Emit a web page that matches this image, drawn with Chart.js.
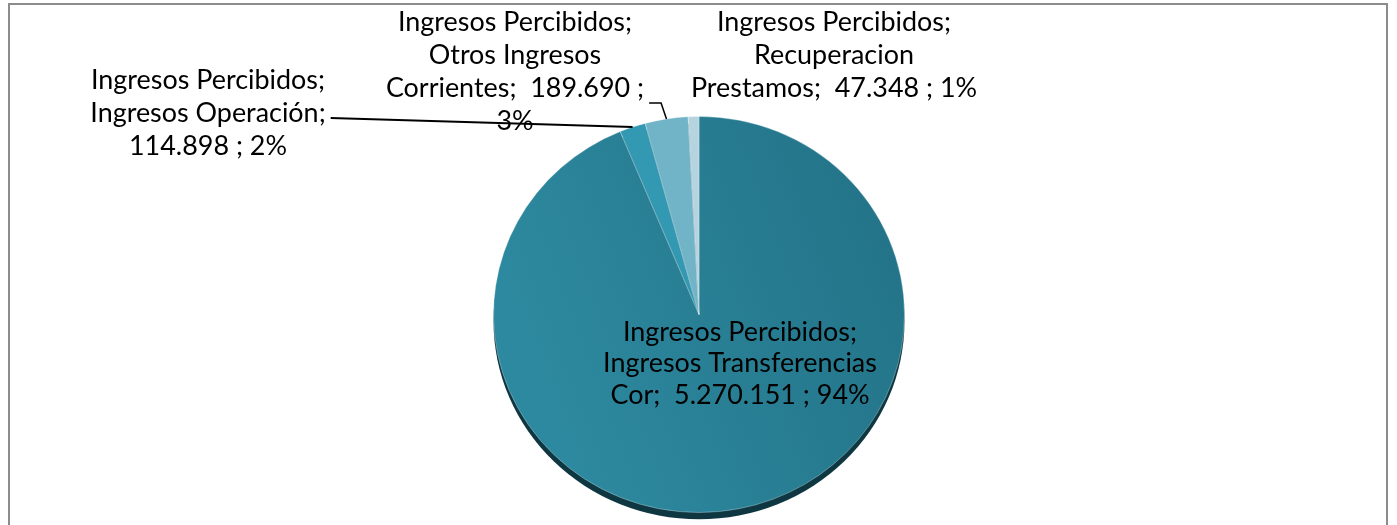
<!DOCTYPE html>
<html>
<head>
<meta charset="utf-8">
<script src="https://cdn.jsdelivr.net/npm/chart.js@4"></script>
<style>
  html, body { margin: 0; padding: 0; background: #fff; }
  #wrap { position: relative; width: 1397px; height: 525px; }
  #frame { position: absolute; left: 8px; top: 3px; width: 1380px; height: 540px; border: 2px solid #8c8c8c; box-sizing: border-box; }
  canvas { position: absolute; left: 0; top: 0; }
</style>
</head>
<body>
<div id="wrap">
  <div id="frame"></div>
  <canvas id="id-canvas" width="1397" height="525"></canvas>
</div>
<script>
// datos del grafico
var categorias = ['Ingresos Transferencias Cor', 'Ingresos Operación', 'Otros Ingresos Corrientes', 'Recuperacion Prestamos'];
var valores = [5270151, 114898, 189690, 47348];
var colores = ['#287c90', '#3399b3', '#71b3c7', '#b6d4df'];

// texto de las etiquetas, una linea por elemento
var etiquetas = [
  ['Ingresos Percibidos;', 'Ingresos Transferencias', 'Cor;  5.270.151 ; 94%'],
  ['Ingresos Percibidos;', 'Ingresos Operación;', '114.898 ; 2%'],
  ['Ingresos Percibidos;', 'Otros Ingresos', 'Corrientes;  189.690 ;', '3%'],
  ['Ingresos Percibidos;', 'Recuperacion', 'Prestamos;  47.348 ; 1%']
];

(function() {
  var FONT = 'Lato, "Open Sans", sans-serif';
  var ESCALA_Y = 0.9636; // la torta de excel sale un poco aplastada

  // donde va cada etiqueta (centro x, y de la primera linea, interlineado)
  var posEtiquetas = [
    { x: 740, y: 332, lh: 31.5 },
    { x: 208, y: 80, lh: 33 },
    { x: 515, y: 22, lh: 33 },
    { x: 834, y: 22, lh: 33 }
  ];

  var aplastar = {
    id: 'aplastar',
    beforeDatasetsDraw: function(chart) {
      var arc = chart.getDatasetMeta(0).data[0];
      var ctx = chart.ctx;
      ctx.save();
      ctx.translate(0, arc.y);
      ctx.scale(1, ESCALA_Y);
      ctx.translate(0, -arc.y);
      // sombra / canto de la torta
      ctx.beginPath();
      ctx.arc(arc.x, arc.y + 7, arc.outerRadius, 0, Math.PI * 2);
      ctx.fillStyle = '#0e3741';
      ctx.fill();
    },
    afterDatasetsDraw: function(chart) {
      chart.ctx.restore();
    }
  };

  var rotulos = {
    id: 'rotulos',
    afterDraw: function(chart) {
      var ctx = chart.ctx;
      var arcs = chart.getDatasetMeta(0).data;
      ctx.save();
      // tamano de letra ajustado al ancho de la primera linea
      var size = 24;
      ctx.font = size + 'px ' + FONT;
      var w = ctx.measureText('Ingresos Percibidos;').width;
      size = size * 234 / w;
      ctx.font = size + 'px ' + FONT;
      ctx.fillStyle = '#000';
      ctx.textAlign = 'center';
      ctx.textBaseline = 'middle';
      etiquetas.forEach(function(lines, i) {
        var p = posEtiquetas[i];
        lines.forEach(function(t, j) {
          ctx.fillText(t, p.x, p.y + j * p.lh);
        });
      });

      // fin a la derecha de una linea de texto
      function finTexto(i, j) {
        var p = posEtiquetas[i];
        return { x: p.x + ctx.measureText(etiquetas[i][j]).width / 2, y: p.y + j * p.lh };
      }
      // lineas guia hasta el borde de cada porcion
      function borde(i) {
        var a = arcs[i];
        var mid = (a.startAngle + a.endAngle) / 2;
        return { x: a.x + Math.cos(mid) * a.outerRadius, y: a.y + Math.sin(mid) * a.outerRadius * ESCALA_Y };
      }
      ctx.strokeStyle = '#000';
      ctx.lineWidth = 2;
      var t1 = finTexto(1, 1), b1 = borde(1);
      ctx.beginPath();
      ctx.moveTo(t1.x + 5, t1.y + 5);
      ctx.lineTo(b1.x, b1.y);
      ctx.stroke();
      ctx.lineWidth = 1.5;
      var t2 = finTexto(2, 2), b2 = borde(2);
      ctx.beginPath();
      ctx.moveTo(t2.x + 5, t2.y + 15);
      ctx.lineTo(t2.x + 17, t2.y + 15);
      ctx.lineTo(b2.x, b2.y);
      ctx.stroke();
      ctx.restore();
    }
  };

  function fondo(c) {
    var area = c.chart.chartArea;
    if (!area || c.dataIndex !== 0) return colores[c.dataIndex];
    var g = c.chart.ctx.createLinearGradient(area.left, area.top + 150, area.right, area.top);
    g.addColorStop(0, '#2d899f');
    g.addColorStop(1, '#227185');
    return g;
  }

  var ctx = document.getElementById('id-canvas').getContext('2d');
  window.grafico = new Chart(ctx, {
    type: 'pie',
    data: {
      labels: categorias,
      datasets: [{
        data: valores,
        backgroundColor: fondo,
        borderColor: 'rgba(255,255,255,0.3)',
        borderWidth: 1
      }]
    },
    options: {
      responsive: false,
      animation: false,
      layout: { padding: { top: 108.5, bottom: 4.5, left: 493, right: 492 } },
      plugins: {
        legend: { display: false },
        tooltip: { enabled: false }
      }
    },
    plugins: [aplastar, rotulos]
  });
})();
</script>
</body>
</html>
